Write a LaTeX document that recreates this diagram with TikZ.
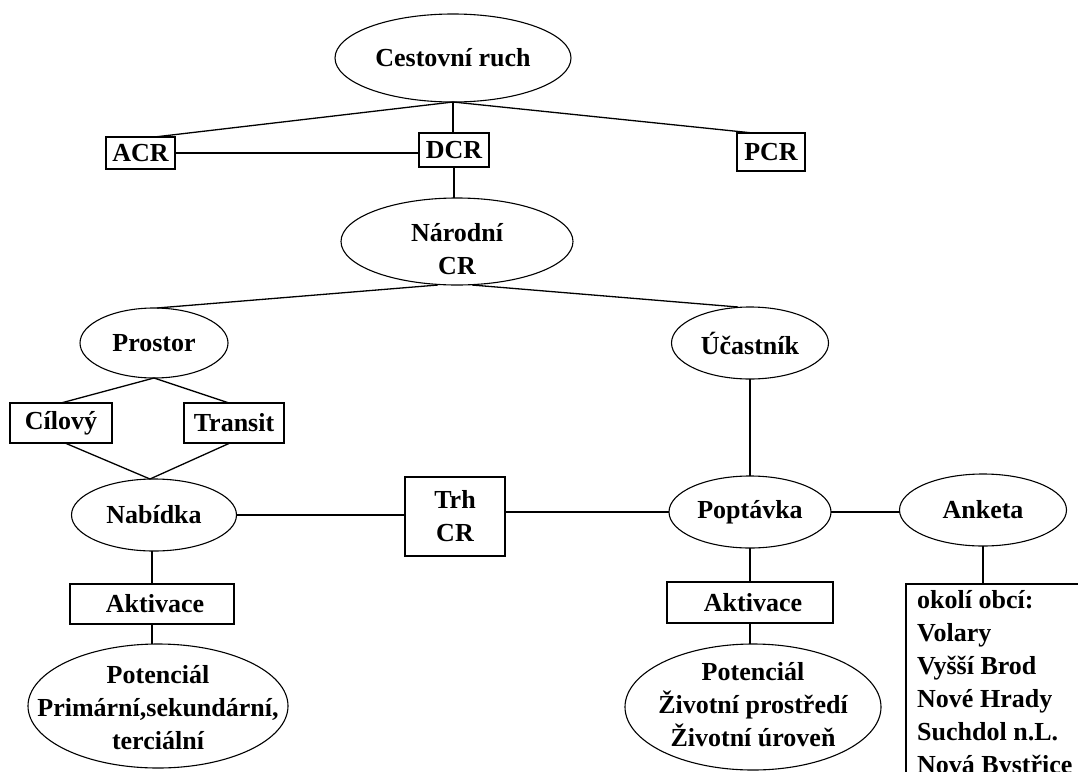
\documentclass[tikz,border=0pt]{standalone}
\usepackage{fontspec}
\setmainfont{Liberation Serif}
\usetikzlibrary{shapes.geometric,calc}
\tikzset{
  every node/.style={font=\fontsize{26}{33}\selectfont\bfseries, inner sep=0pt},
  oval/.style={draw, ellipse, line width=1.1pt, outer sep=0pt},
  txt/.style={align=center},
  rbox/.style={draw, rectangle, line width=1.3pt, align=center, outer sep=0pt},
  conn/.style={line width=1.3pt}
}
\begin{document}
\begin{tikzpicture}[x=1pt,y=-1pt]
\useasboundingbox (0,0) rectangle (1078,771);
\clip (0,0) rectangle (1078,771);
% ellipses
\node[oval, minimum width=236pt, minimum height=88pt] (ces) at (453,58) {};
\node[txt] (cest) at (ces) {Cestovní ruch};
\node[oval, minimum width=232pt, minimum height=87pt] (nar) at (457,241.5) {};
\node[txt] (nart) at ($(nar)+(0,8)$) {Národní\\CR};
\node[oval, minimum width=148pt, minimum height=70pt] (pro) at (154,343) {};
\node[txt] (prot) at (pro) {Prostor};
\node[oval, minimum width=157pt, minimum height=72pt] (uc) at (750,343) {};
\node[txt] (uct) at (uc) {Účastník};
\node[oval, minimum width=165pt, minimum height=72pt] (nab) at (154,515) {};
\node[txt] (nabt) at (nab) {Nabídka};
\node[oval, minimum width=162pt, minimum height=72pt] (pop) at (750,512) {};
\node[txt] (popt) at (pop) {Poptávka};
\node[oval, minimum width=167pt, minimum height=72pt] (ank) at (983,510) {};
\node[txt] (ankt) at (ank) {Anketa};
\node[oval, minimum width=260pt, minimum height=124pt] (potl) at (158,706) {};
\node[txt] (potlt) at ($(potl)+(0,2)$) {Potenciál\\Primární,sekundární,\\terciální};
\node[oval, minimum width=256pt, minimum height=126pt] (potr) at (753,707) {};
\node[txt] (potrt) at ($(potr)+(0,-2)$) {Potenciál\\Životní prostředí\\Životní úroveň};
% boxes
\node[rbox, minimum width=69pt, minimum height=32pt] (acr) at (140.5,153) {ACR};
\node[rbox, minimum width=70pt, minimum height=34pt] (dcr) at (454,150) {DCR};
\node[rbox, minimum width=68pt, minimum height=38pt] (pcr) at (771,152) {PCR};
\node[rbox, minimum width=102pt, minimum height=40pt] (cil) at (61,423) {Cílový};
\node[rbox, minimum width=100pt, minimum height=40pt] (tra) at (234,423) {Transit};
\node[rbox, minimum width=100pt, minimum height=79pt] (trh) at (455,516.5) {Trh\\CR};
\node[rbox, minimum width=164pt, minimum height=40pt] (aktl) at (152,604) {\hspace{6pt}Aktivace};
\node[rbox, minimum width=166pt, minimum height=41pt] (aktr) at (750,602.5) {\hspace{6pt}Aktivace};
\node[rbox, anchor=north west, minimum width=190pt, minimum height=220pt] (oko) at (906,584) {};
\node[anchor=north west, align=left] (okot) at (917,590) {okolí obcí:\\Volary\\Vyšší Brod\\Nové Hrady\\Suchdol n.L.\\Nová Bystřice};
% connectors
\draw[conn] (ces.south) -- ($(acr.north)+(14,0)$);
\draw[conn] (ces.south) -- ($(pcr.north)+(-18,0)$);
\draw[conn] (ces.south) -- (ces.south |- dcr.north);
\draw[conn] (acr.east) -- (dcr.west |- acr.east);
\draw[conn] (dcr.south) -- (dcr.south |- nar.north);
\draw[conn] ($(nar.south)+(-19,0)$) -- ($(pro.north)+(3,0)$);
\draw[conn] ($(nar.south)+(15,0)$) -- ($(uc.north)+(-12,0)$);
\draw[conn] (pro.south) -- (cil.north);
\draw[conn] (pro.south) -- ($(tra.north)+(-5,0)$);
\draw[conn] ($(cil.south)+(4,0)$) -- ($(nab.north)+(-4,0)$);
\draw[conn] ($(tra.south)+(-4,0)$) -- ($(nab.north)+(-4,0)$);
\draw[conn] (nab.east) -- (trh.west |- nab.east);
\draw[conn] (trh.east |- pop.west) -- (pop.west);
\draw[conn] (pop.east) -- (ank.west |- pop.east);
\draw[conn] (uc.south) -- (pop.north);
\draw[conn] ($(nab.south)+(-2,0)$) -- ($(aktl.north)$);
\draw[conn] (aktl.south) -- (aktl.south |- potl.north);
\draw[conn] (pop.south) -- (aktr.north);
\draw[conn] (aktr.south) -- (aktr.south |- potr.north);
\draw[conn] (ank.south) -- (ank.south |- oko.north);
\end{tikzpicture}
\end{document}
